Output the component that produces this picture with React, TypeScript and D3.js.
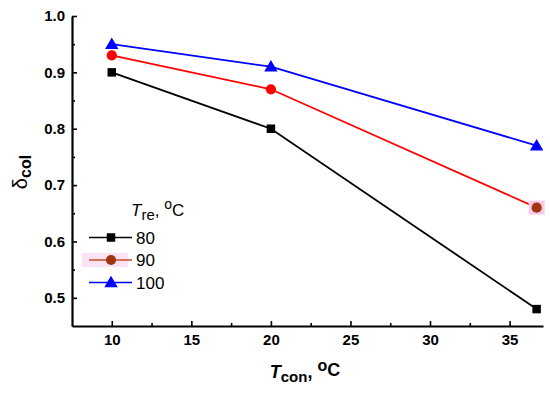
import { useEffect, useRef } from 'react';
import * as d3 from 'd3';

const tcon = [10, 20, 36.7];
const series80 = [0.9, 0.8, 0.48];
const series90 = [0.93, 0.87, 0.66];
const series100 = [0.95, 0.91, 0.77];
const seriesNames = ['80', '90', '100'];
const xTicks = [10, 15, 20, 25, 30, 35];
const yTicks = [0.5, 0.6, 0.7, 0.8, 0.9, 1.0];

const App = () => {
  const svgRef = useRef<SVGSVGElement>(null);

  useEffect(() => {
    const svg = d3.select(svgRef.current);
    svg.selectAll('*').remove();

    const width = 550;
    const height = 394;
    const marginLeft = 72;
    const marginRight = 7;
    const marginTop = 16;
    const marginBottom = 68;

    const x = d3.scaleLinear().domain([7.5, 37.1]).range([marginLeft, width - marginRight]);
    const y = d3.scaleLinear().domain([0.45, 1.0]).range([height - marginBottom, marginTop]);

    svg.attr('viewBox', [0, 0, width, height]).attr('width', width).attr('height', height)
      .style('font-family', '"Liberation Sans", Arial, sans-serif');

    // axes
    const xAxis = svg.append('g').attr('transform', `translate(0,${y(0.45)})`);
    xAxis.call(d3.axisBottom(x).tickValues(xTicks).tickSize(-5).tickPadding(8).tickSizeOuter(0));
    xAxis.append('g').call(d3.axisBottom(x).tickValues(d3.range(12.5, 36, 5)).tickSize(-3).tickFormat(() => '').tickSizeOuter(0))
      .call(g => g.select('.domain').remove());

    const yAxis = svg.append('g').attr('transform', `translate(${x(7.5)},0)`);
    yAxis.call(d3.axisLeft(y).tickValues(yTicks).tickFormat(d3.format('.1f')).tickSize(-5).tickPadding(7).tickSizeOuter(0));
    yAxis.append('g').call(d3.axisLeft(y).tickValues([0.55, 0.65, 0.75, 0.85, 0.95]).tickSize(-3).tickFormat(() => '').tickSizeOuter(0))
      .call(g => g.select('.domain').remove());

    svg.selectAll('.domain').attr('stroke-width', 2.2);
    svg.selectAll('.tick line').attr('stroke-width', 1.6);
    svg.selectAll('.tick text').attr('font-size', 15).attr('font-weight', 'bold')
      .attr('font-family', '"Liberation Sans", Arial, sans-serif').attr('fill', '#000');

    const line = d3.line<number>().x((_, i) => x(tcon[i])).y(d => y(d));

    const allSeries = [
      { name: seriesNames[0], values: series80, color: '#000000', marker: d3.symbolSquare, size: 72 },
      { name: seriesNames[1], values: series90, color: '#ff0000', marker: d3.symbolCircle, size: 82 },
      { name: seriesNames[2], values: series100, color: '#0000ff', marker: d3.symbolTriangle, size: 78 },
    ];

    allSeries.forEach(s => {
      svg.append('path').datum(s.values).attr('d', line)
        .attr('fill', 'none').attr('stroke', s.color).attr('stroke-width', 1.8);
      s.values.forEach((v, i) => {
        const last = s.name === '90' && i === s.values.length - 1;
        if (last) {
          svg.append('rect').attr('x', x(tcon[i]) - 8).attr('y', y(v) - 7).attr('width', 16).attr('height', 14)
            .attr('fill', '#f7c9ec');
        }
        svg.append('path')
          .attr('d', d3.symbol(s.marker, s.size)())
          .attr('transform', `translate(${x(tcon[i])},${y(v) + (s.marker === d3.symbolTriangle ? 1 : 0)})`)
          .attr('fill', last ? '#a0350f' : s.color);
      });
    });

    // legend
    const legend = svg.append('g');
    const lt = legend.append('text').attr('x', 131).attr('y', 216).attr('font-size', 17);
    lt.append('tspan').attr('font-style', 'italic').text('T');
    lt.append('tspan').attr('dy', 4).attr('font-size', 15).text('re');
    lt.append('tspan').attr('dy', -4).text(', ');
    lt.append('tspan').attr('dy', -7).attr('font-size', 14).text('o');
    lt.append('tspan').attr('dy', 7).text('C');

    allSeries.forEach((s, i) => {
      const ly = 237.5 + i * 22.5;
      const lm = 111;
      if (s.name === '90') {
        legend.append('rect').attr('x', 82).attr('y', ly - 7).attr('width', 46).attr('height', 14).attr('fill', '#fbe3f3');
      }
      legend.append('line').attr('x1', 89).attr('x2', 132).attr('y1', ly).attr('y2', ly)
        .attr('stroke', s.name === '90' ? '#c0502a' : s.color).attr('stroke-width', 1.6);
      legend.append('path').attr('d', d3.symbol(s.marker, s.size)())
        .attr('transform', `translate(${lm},${ly + (s.marker === d3.symbolTriangle ? 1 : 0)})`)
        .attr('fill', s.name === '90' ? '#a0350f' : s.color);
      legend.append('text').attr('x', 136).attr('y', ly + 6).attr('font-size', 17).text(s.name);
    });

    // axis titles
    const xt = svg.append('text').attr('x', 305).attr('y', 378).attr('text-anchor', 'middle')
      .attr('font-size', 18).attr('font-weight', 'bold');
    xt.append('tspan').attr('font-style', 'italic').text('T');
    xt.append('tspan').attr('dy', 4).attr('font-size', 15).text('con');
    xt.append('tspan').attr('dy', -4).text(', ');
    xt.append('tspan').attr('dy', -7).attr('font-size', 16).text('o');
    xt.append('tspan').attr('dy', 5).text('C');

    const yt = svg.append('text').attr('transform', 'translate(27,172) rotate(-90)').attr('text-anchor', 'middle')
      .attr('font-size', 20).attr('font-weight', 'bold');
    yt.append('tspan').attr('font-weight', 'normal').text('δ');
    yt.append('tspan').attr('dy', 4).attr('font-size', 16).text('col');
  }, []);

  return (
    <div style={{ position: 'absolute', left: 0, top: 0 }}>
      <svg ref={svgRef} />
    </div>
  );
};

export default App;
